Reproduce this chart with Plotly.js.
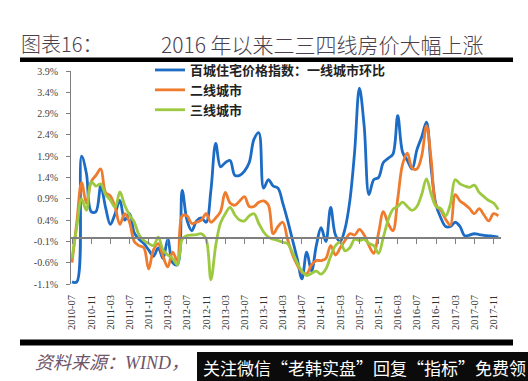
<!DOCTYPE html>
<html><head><meta charset="utf-8">
<script src="https://cdn.plot.ly/plotly-3.0.1.min.js"></script>
<style>html,body{margin:0;padding:0;background:#fff}#c{width:528px;height:381px}</style>
</head><body><div id="c"></div>
<script>
// months 2010-07 .. 2017-12 (category axis)
const months = [];
for (let y = 2010; y <= 2017; y++) {
  for (let m = 1; m <= 12; m++) {
    if (y === 2010 && m < 7) continue;
    months.push(y + '-' + (m < 10 ? '0' + m : m));
  }
}
const tickLabels = ['2010-07','2010-11','2011-03','2011-07','2011-11','2012-03','2012-07','2012-11',
  '2013-03','2013-07','2013-11','2014-03','2014-07','2014-11','2015-03','2015-07','2015-11',
  '2016-03','2016-07','2016-11','2017-03','2017-07','2017-11'];
const yTickVals = [-1.1,-0.6,-0.1,0.4,0.9,1.4,1.9,2.4,2.9,3.4,3.9];
const yTickText = ['-1.1%','-0.6%','-0.1%','0.4%','0.9%','1.4%','1.9%','2.4%','2.9%','3.4%','3.9%'];

const seriesNames = ['百城住宅价格指数：一线城市环比','二线城市','三线城市'];

const tier1 = [
 -1.05,-1.05,1.9,1.5,0.6,0.6,1.2,0.7,0.3,0.55,
 0.86,0.4,0.55,0.1,-0.05,-0.15,-0.3,-0.45,-0.25,-0.5,
 -0.05,-0.6,-0.65,1.1,0.4,0.15,0.38,0.45,0.35,1.1,
 2.2,1.65,1.75,1.8,1.45,1.45,1.55,1.75,2.3,2.45,
 1.15,1.35,1.2,1.15,0.8,0.4,-0.05,-0.5,-0.98,-0.35,
 -0.8,-0.2,0.22,-0.1,0.7,0.05,-0.1,0.2,0.85,2.0,
 3.5,2.6,1.0,1.35,1.4,1.75,1.85,1.95,2.85,2.0,
 1.8,1.6,2.05,2.35,2.7,1.6,0.75,0.45,0.25,0.25,
 0.35,0.25,0.03,0.05,0.08,0.06,0.04,0.03,0.02,0.0
];
const tier2 = [
 -0.6,0.35,1.28,0.8,1.3,1.45,1.6,1.05,0.97,0.7,
 0.3,0.55,0.35,-0.1,-0.2,-0.25,-0.75,-0.3,-0.15,-0.45,
 -0.7,-0.35,-0.55,0.5,0.5,0.32,0.35,0.4,0.55,0.35,
 0.45,0.6,1.05,0.8,0.75,0.85,0.95,0.72,0.72,0.82,
 0.85,0.75,0.08,0.25,0.35,-0.05,-0.4,-0.65,-0.82,-0.86,
 -0.65,-0.55,-0.55,-0.5,-0.2,-0.42,-0.25,-0.08,0.08,0.05,
 0.18,0.05,-0.2,-0.38,0.1,0.6,0.32,0.15,0.9,1.7,
 1.97,1.62,1.6,1.9,2.62,1.8,0.75,0.63,0.42,0.28,
 1.0,0.85,0.77,0.67,0.55,0.67,0.52,0.38,0.55,0.5
];
const tier3 = [
 -0.5,0.25,0.9,0.63,1.3,1.2,1.25,1.0,0.87,0.7,
 1.06,0.75,0.52,0.35,0.05,-0.08,-0.15,-0.2,0.0,-0.3,
 -0.42,-0.5,-0.65,-0.05,0.04,0.05,0.06,0.08,-0.05,-1.0,
 -0.2,0.33,0.55,0.7,0.52,0.4,0.38,0.5,0.55,0.32,
 0.12,0.0,-0.05,-0.08,-0.12,-0.15,-0.35,-0.6,-0.8,-0.9,
 -0.85,-0.8,-0.87,-0.75,-0.45,-0.2,-0.12,-0.32,-0.25,-0.05,
 -0.08,-0.05,-0.15,-0.2,-0.38,0.0,0.4,0.65,0.72,0.82,
 0.72,0.63,0.72,1.0,1.37,1.0,0.72,0.67,0.5,0.78,
 1.35,1.25,1.2,1.17,1.22,1.05,0.95,0.86,0.8,0.65
];
const colors = ['#1c6bc4','#ee7b2e','#9cc93f'];

// plot-area geometry in pixels (used for paper-coordinate decorations)
const L = 71, R = 27, T = 71, B = 97, WW = 528, HH = 381;
const PW = WW - L - R, PH = HH - T - B;
const px = v => (v - L) / PW;
const py = v => (HH - B - v) / PH;

const traces = [tier1, tier2, tier3].map((ys, i) => ({
  type: 'scatter', mode: 'lines', name: seriesNames[i],
  x: months, y: ys, xaxis: 'x', yaxis: 'y',
  line: {color: colors[i], width: 2.8, shape: 'spline', smoothing: 1},
  hoverinfo: 'skip'
}));
// carrier for the zero-line axis with its tick marks
traces.push({type: 'scatter', mode: 'lines', x: [months[0]], y: [null], xaxis: 'x2', yaxis: 'y',
  showlegend: false, hoverinfo: 'skip'});

const xr = [-0.21, 89.56];
const layout = {
  width: WW, height: HH,
  margin: {l: L, r: R, t: T, b: B},
  paper_bgcolor: '#fff', plot_bgcolor: '#fff',
  showlegend: true,
  legend: {x: px(150), xanchor: 'left', y: py(55), yanchor: 'top',
    bgcolor: 'rgba(0,0,0,0)', tracegroupgap: 0,
    font: {family: 'Noto Sans CJK SC', size: 13, color: '#222', weight: 'bold'}},
  xaxis: {type: 'category', categoryorder: 'array', categoryarray: months, range: xr,
    tickvals: tickLabels, ticktext: tickLabels, tickangle: -90, ticks: '',
    showline: false, showgrid: false, zeroline: false, ticklabelstandoff: 8,
    tickfont: {family: 'Liberation Serif', size: 10.5, color: '#333'}},
  xaxis2: {type: 'category', categoryorder: 'array', categoryarray: months, range: xr,
    overlaying: 'x', anchor: 'free', position: 1.1 / 5,
    tickvals: tickLabels, ticks: 'outside', ticklen: 5, tickwidth: 1, tickcolor: '#7f7f7f',
    showticklabels: false, showline: true, linecolor: '#7f7f7f', linewidth: 1.5,
    showgrid: false, zeroline: false},
  yaxis: {range: [-1.1, 3.9], tickvals: yTickVals, ticktext: yTickText,
    ticks: 'outside', ticklen: 4, tickcolor: '#7f7f7f', showline: true, linecolor: '#7f7f7f',
    linewidth: 1, showgrid: false, zeroline: false, ticklabelstandoff: 6,
    tickfont: {family: 'Liberation Serif', size: 10, color: '#444'}},
  shapes: [
    {type: 'rect', layer: 'above', xref: 'paper', yref: 'paper', x0: px(20), x1: px(513), y0: py(57.5), y1: py(62),
      fillcolor: '#000', line: {width: 0}},
    {type: 'rect', layer: 'above', xref: 'paper', yref: 'paper', x0: px(20), x1: px(513), y0: py(345.5), y1: py(339.5),
      fillcolor: '#000', line: {width: 0}},
    {type: 'rect', layer: 'above', xref: 'paper', yref: 'paper', x0: px(197), x1: px(528), y0: py(381), y1: py(352),
      fillcolor: '#0b0b0b', line: {width: 0}}
  ],
  annotations: [
    {xref: 'paper', yref: 'paper', x: px(19), y: py(44), xanchor: 'left', yanchor: 'middle',
      text: '图表16：', showarrow: false,
      font: {family: 'Noto Sans CJK SC', size: 20, color: '#4a3f4c', weight: 300}},
    {xref: 'paper', yref: 'paper', x: px(159), y: py(44), xanchor: 'left', yanchor: 'middle',
      text: '2016 年以来二三四线房价大幅上涨', showarrow: false,
      font: {family: 'Noto Sans CJK SC', size: 21, color: '#4a3f4c', weight: 300}},
    {xref: 'paper', yref: 'paper', x: px(33), y: py(363), xanchor: 'left', yanchor: 'middle',
      text: '<i>资料来源：WIND，</i>', showarrow: false,
      font: {family: 'Liberation Serif, Noto Sans CJK SC', size: 18, color: '#6e5468'}},
    {xref: 'paper', yref: 'paper', x: px(364), y: py(367), xanchor: 'center', yanchor: 'middle',
      text: '关注微信“老韩实盘”回复“指标”免费领', showarrow: false,
      font: {family: 'Noto Sans CJK SC', size: 17, color: '#fff'}}
  ]
};
Plotly.newPlot('c', traces, layout, {displayModeBar: false, staticPlot: true});
</script></body></html>
